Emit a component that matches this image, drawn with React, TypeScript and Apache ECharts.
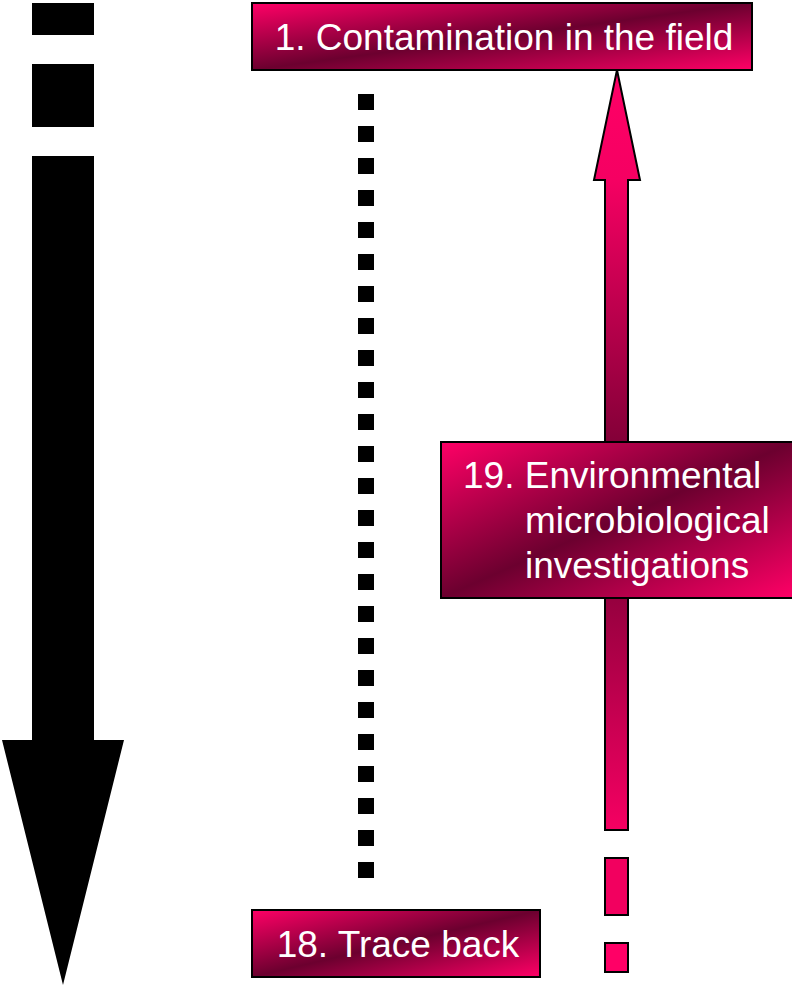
import React, { useEffect, useRef } from "react";
import * as echarts from "echarts";

// ---- content ----
const topLabel = "1. Contamination in the field";
const bottomLabel = "18. Trace back";
const sideLabelLines = ["19. Environmental", "microbiological", "investigations"];
const dotCount = 25;

const PINK = "#FF0066";
const DARK = "#6C002F";
const FONT = "'Liberation Sans', Arial, Helvetica, sans-serif";

function diagGrad(x: number, y: number, w: number, h: number) {
  const L2 = w * w + h * h;
  return new echarts.graphic.LinearGradient(
    x,
    y,
    x + (2 * w * h * h) / L2,
    y + (2 * w * w * h) / L2,
    [
      { offset: 0, color: PINK },
      { offset: 0.5, color: DARK },
      { offset: 1, color: PINK },
    ],
    true
  );
}

function box(x: number, y: number, w: number, h: number) {
  return {
    type: "rect",
    shape: { x, y, width: w, height: h },
    style: { fill: diagGrad(x, y, w, h), stroke: "#000", lineWidth: 2 },
  };
}

function txt(x: number, y: number, text: string, align: string) {
  return {
    type: "text",
    x,
    y,
    style: {
      text,
      fill: "#fff",
      font: `37px ${FONT}`,
      textAlign: align,
      textVerticalAlign: "middle",
    },
  };
}

export default function App() {
  const ref = useRef<HTMLDivElement>(null);
  useEffect(() => {
    if (!ref.current) return;
    const chart = echarts.init(ref.current, undefined, { renderer: "svg" });
    const elements: any[] = [];

    // black dashed arrow (left)
    elements.push({ type: "rect", shape: { x: 32, y: 3, width: 62, height: 32 }, style: { fill: "#000" } });
    elements.push({ type: "rect", shape: { x: 32, y: 64, width: 62, height: 63 }, style: { fill: "#000" } });
    elements.push({
      type: "polygon",
      shape: {
        points: [
          [32, 156],
          [94, 156],
          [94, 740],
          [124, 740],
          [63, 985],
          [2, 740],
          [32, 740],
        ],
      },
      style: { fill: "#000" },
    });

    // dotted line
    for (let i = 0; i < dotCount; i++) {
      elements.push({
        type: "rect",
        shape: { x: 358, y: 94 + i * 32, width: 16, height: 16 },
        style: { fill: "#000" },
      });
    }

    // pink up arrow
    elements.push({
      type: "polygon",
      shape: {
        points: [
          [617, 70],
          [640, 180],
          [628, 180],
          [628, 830],
          [605, 830],
          [605, 180],
          [594, 180],
        ],
      },
      style: {
        fill: new echarts.graphic.LinearGradient(
          0,
          70,
          0,
          830,
          [
            { offset: 0, color: PINK },
            { offset: 0.145, color: "#F50062" },
            { offset: 0.56, color: DARK },
            { offset: 1, color: "#F50062" },
          ],
          true
        ),
        stroke: "#000",
        lineWidth: 2,
      },
    });
    elements.push({
      type: "rect",
      shape: { x: 605, y: 858, width: 23, height: 57 },
      style: { fill: "#F2005F", stroke: "#000", lineWidth: 2 },
    });
    elements.push({
      type: "rect",
      shape: { x: 605, y: 943, width: 23, height: 29 },
      style: { fill: PINK, stroke: "#000", lineWidth: 2 },
    });

    // boxes
    elements.push(box(252, 3, 500, 67));
    elements.push(txt(504, 37, topLabel, "center"));

    elements.push(box(252, 910, 288, 67));
    elements.push(txt(398, 944, bottomLabel, "center"));

    elements.push(box(441, 442, 352, 156));
    elements.push(txt(463, 475, sideLabelLines[0], "left"));
    elements.push(txt(525, 520, sideLabelLines[1], "left"));
    elements.push(txt(525, 565, sideLabelLines[2], "left"));

    chart.setOption({
      animation: false,
      graphic: { elements },
    });
    return () => chart.dispose();
  }, []);
  return (
    <div
      ref={ref}
      style={{ position: "absolute", left: 0, top: 0, width: 792, height: 985, background: "#fff" }}
    />
  );
}
